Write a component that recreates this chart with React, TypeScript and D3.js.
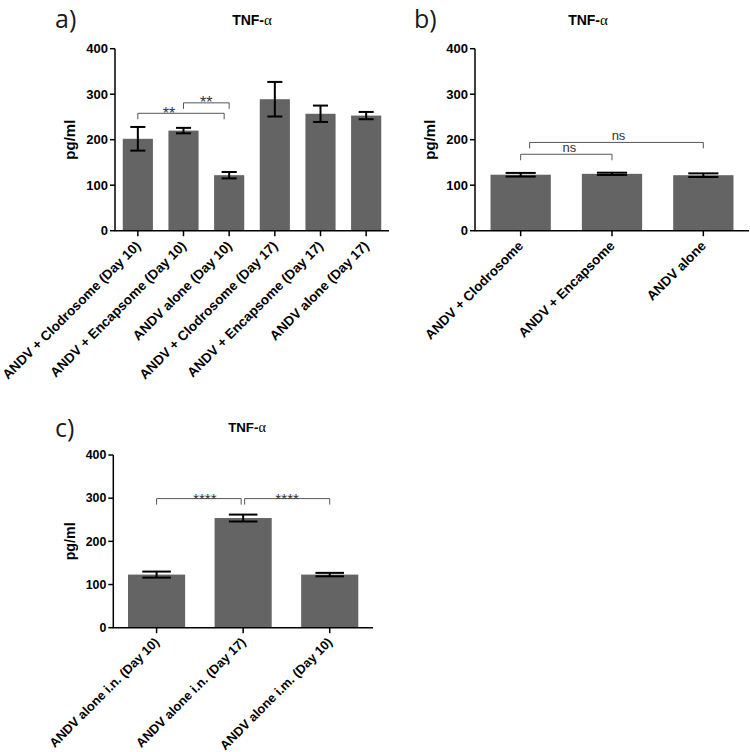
import React, { useEffect, useRef } from 'react'
import * as d3 from 'd3'

// shared y ticks (pg/ml)
const yTicks = [0, 100, 200, 300, 400]

// panel a
const groupsA = [
  'ANDV + Clodrosome (Day 10)',
  'ANDV + Encapsome (Day 10)',
  'ANDV alone (Day 10)',
  'ANDV + Clodrosome (Day 17)',
  'ANDV + Encapsome (Day 17)',
  'ANDV alone (Day 17)',
]
const meansA = [202, 220, 122, 289, 257, 253]
const errorsA = [26, 6, 7, 38, 18, 8]
const bracketsA = [
  { from: 0, to: 2, y: 258, label: '**' },
  { from: 1, to: 2, y: 281, label: '**' },
]

// panel b
const groupsB = ['ANDV + Clodrosome', 'ANDV + Encapsome', 'ANDV alone']
const meansB = [123, 125, 122]
const errorsB = [4, 2.5, 4]
const bracketsB = [
  { from: 0, to: 1, y: 168, label: 'ns' },
  { from: 0, to: 2, y: 194, label: 'ns' },
]

// panel c
const groupsC = [
  'ANDV alone i.n. (Day 10)',
  'ANDV alone i.n. (Day 17)',
  'ANDV alone i.m. (Day 10)',
]
const meansC = [123, 254, 123]
const errorsC = [7, 8, 4]
const bracketsC = [
  { from: 0, to: 1, y: 299, label: '****' },
  { from: 1, to: 2, y: 299, label: '****' },
]

interface Bracket {
  from: number
  to: number
  y: number
  label: string
}

interface PanelCfg {
  letter: string
  letterX: number
  letterY: number
  titleX: number
  titleY: number
  x0: number
  x1: number
  yTop: number
  yBot: number
  s: number // text scale of the panel
  groups: string[]
  means: number[]
  errors: number[]
  brackets: Bracket[]
  // pixel nudges of bracket ends so neighbouring brackets do not touch
  nudges: [number, number][]
  // pixel nudge of each bracket label
  labelShift: number[]
}

const FONT = "'Liberation Sans', Arial, sans-serif"

const drawPanel = (svg: d3.Selection<SVGSVGElement, unknown, null, undefined>, p: PanelCfg) => {
  const g = svg.append('g')
  const s = p.s

  const x = d3
    .scaleBand<number>()
    .domain(p.groups.map((_, i) => i))
    .range([p.x0, p.x1])
    .paddingInner(0.34)
    .paddingOuter(0.17)
  const y = d3.scaleLinear().domain([0, 400]).range([p.yBot, p.yTop])
  const bw = x.bandwidth()
  const cx = (i: number) => (x(i) as number) + bw / 2

  // panel letter + title
  g.append('text')
    .attr('x', p.letterX)
    .attr('y', p.letterY)
    .style('font-family', "'Open Sans', sans-serif")
    .style('font-size', '25px')
    .attr('fill', '#1a1a1a')
    .text(p.letter)

  const title = g
    .append('text')
    .attr('x', p.titleX)
    .attr('y', p.titleY)
    .attr('text-anchor', 'middle')
    .style('font-family', FONT)
    .style('font-size', `${14 * s}px`)
    .style('font-weight', 'bold')
  title.append('tspan').text('TNF-')
  title
    .append('tspan')
    .style('font-family', "'Liberation Serif', serif")
    .style('font-weight', 'normal')
    .style('font-size', `${15 * s}px`)
    .text('α')

  // bars
  g.selectAll('.bar')
    .data(p.means)
    .enter()
    .append('rect')
    .attr('x', (_, i) => x(i) as number)
    .attr('y', (d) => y(d))
    .attr('width', bw)
    .attr('height', (d) => p.yBot - y(d))
    .attr('fill', '#646464')

  // error bars
  const eb = g.append('g').attr('stroke', '#000').attr('stroke-width', 2)
  p.means.forEach((m, i) => {
    const e = p.errors[i]
    eb.append('line')
      .attr('x1', cx(i))
      .attr('x2', cx(i))
      .attr('y1', y(m - e))
      .attr('y2', y(m + e))
    ;[m - e, m + e].forEach((v) => {
      eb.append('line')
        .attr('x1', cx(i) - bw / 4)
        .attr('x2', cx(i) + bw / 4)
        .attr('y1', y(v))
        .attr('y2', y(v))
    })
  })

  // axes
  g.append('line')
    .attr('x1', p.x0)
    .attr('x2', p.x0)
    .attr('y1', p.yTop)
    .attr('y2', p.yBot)
    .attr('stroke', '#000')
    .attr('stroke-width', 1.5)
  g.append('line')
    .attr('x1', p.x0 - 0.75)
    .attr('x2', p.x1)
    .attr('y1', p.yBot)
    .attr('y2', p.yBot)
    .attr('stroke', '#000')
    .attr('stroke-width', 1.5)

  yTicks.forEach((t) => {
    g.append('line')
      .attr('x1', p.x0 - 5)
      .attr('x2', p.x0)
      .attr('y1', y(t))
      .attr('y2', y(t))
      .attr('stroke', '#000')
      .attr('stroke-width', 1.5)
    g.append('text')
      .attr('x', p.x0 - 7)
      .attr('y', y(t))
      .attr('dy', '0.35em')
      .attr('text-anchor', 'end')
      .style('font-family', FONT)
      .style('font-size', `${13 * s}px`)
      .style('font-weight', 'bold')
      .text(t)
  })

  g.append('text')
    .attr('transform', `translate(${p.x0 - 40 * s}, ${(p.yTop + p.yBot) / 2}) rotate(-90)`)
    .attr('text-anchor', 'middle')
    .style('font-family', FONT)
    .style('font-size', `${15 * s}px`)
    .style('font-weight', 'bold')
    .text('pg/ml')

  p.groups.forEach((name, i) => {
    g.append('line')
      .attr('x1', cx(i))
      .attr('x2', cx(i))
      .attr('y1', p.yBot)
      .attr('y2', p.yBot + 5.5)
      .attr('stroke', '#000')
      .attr('stroke-width', 1.5)
    g.append('text')
      .attr('transform', `translate(${cx(i) + 3.5 * s}, ${p.yBot + 16 * s}) rotate(-45)`)
      .attr('text-anchor', 'end')
      .style('font-family', FONT)
      .style('font-size', `${13.5 * s}px`)
      .style('font-weight', 'bold')
      .text(name)
  })

  // significance brackets
  p.brackets.forEach((b, k) => {
    const [n0, n1] = p.nudges[k]
    const xa = cx(b.from) + n0
    const xb = cx(b.to) + n1
    const yy = y(b.y)
    g.append('path')
      .attr('d', `M${xa},${yy + 6}V${yy}H${xb}V${yy + 6}`)
      .attr('fill', 'none')
      .attr('stroke', '#555')
      .attr('stroke-width', 1)
    const stars = b.label.startsWith('*')
    g.append('text')
      .attr('x', (xa + xb) / 2 + p.labelShift[k])
      .attr('y', stars ? yy + 5.5 : yy - 2.5)
      .attr('text-anchor', 'middle')
      .style('font-family', FONT)
      .style('font-size', stars ? `${16 * s}px` : `${13 * s}px`)
      .attr('fill', '#333')
      .text(b.label)
  })
}

const panels: PanelCfg[] = [
  {
    letter: 'a)', letterX: 55, letterY: 28, titleX: 252, titleY: 25,
    x0: 115, x1: 389, yTop: 48.7, yBot: 230.7, s: 1,
    groups: groupsA, means: meansA, errors: errorsA, brackets: bracketsA,
    nudges: [[0, -5], [0, 0]], labelShift: [-12, 0],
  },
  {
    letter: 'b)', letterX: 414, letterY: 28, titleX: 588, titleY: 25,
    x0: 475, x1: 749, yTop: 48.7, yBot: 230.7, s: 1,
    groups: groupsB, means: meansB, errors: errorsB, brackets: bracketsB,
    nudges: [[0, 0], [9, 0]], labelShift: [3, 2],
  },
  {
    letter: 'c)', letterX: 55, letterY: 437, titleX: 247, titleY: 432,
    x0: 113.3, x1: 373, yTop: 455, yBot: 627.7, s: 0.95,
    groups: groupsC, means: meansC, errors: errorsC, brackets: bracketsC,
    nudges: [[0, -2], [1.5, 0]], labelShift: [6, 0],
  },
]

export default function App() {
  const ref = useRef<SVGSVGElement>(null)

  useEffect(() => {
    const svg = d3.select(ref.current as SVGSVGElement)
    svg.selectAll('*').remove()
    svg.append('rect').attr('width', 750).attr('height', 752).attr('fill', '#fff')
    panels.forEach((p) => drawPanel(svg, p))
  }, [])

  return (
    <svg
      ref={ref}
      width={750}
      height={752}
      style={{ position: 'absolute', left: 0, top: 0 }}
    />
  )
}
